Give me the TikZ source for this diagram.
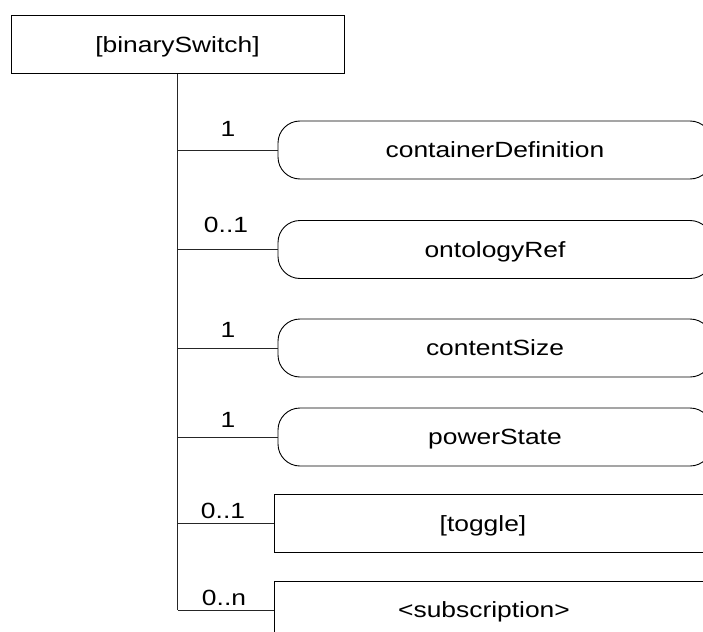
\documentclass[tikz,border=0pt]{standalone}
\usepackage{fontspec}
\setmainfont{Liberation Sans}[FakeStretch=1.2]
\begin{document}
\begin{tikzpicture}[x=1pt,y=-1pt,
  every node/.style={font=\fontsize{22}{26}\selectfont},
  box/.style={draw, line width=0.9pt, minimum height=58pt, inner sep=0pt,
    text height=15.6pt, text depth=0pt},
  roundbox/.style={box, rounded corners=22pt, minimum width=434pt},
  rectbox/.style={box, minimum width=446pt, anchor=west},
  conn/.style={line width=0.9pt, draw=black!85},
  mult/.style={anchor=base, inner sep=0pt}]
\useasboundingbox (0,0) rectangle (703,631);
\clip (0,0) rectangle (703,631);
\node[box, minimum width=333pt] (top) at (177.5,44.5) {[binarySwitch]};
\node[roundbox] (cd) at (495,150) {containerDefinition};
\node[roundbox] (or) at (495,249.5) {ontologyRef};
\node[roundbox] (cs) at (495,348) {contentSize};
\node[roundbox] (ps) at (495,437) {powerState};
\node[rectbox] (tg) at (274,523.5) {};
\node (tgtext) at (483,523.5) [text height=15.6pt, text depth=0pt, inner sep=0pt] {[toggle]};
\node[rectbox] (sb) at (274,610) {};
\node (sbtext) at (484,610) [text height=15.6pt, text depth=0pt, inner sep=0pt] {<subscription>};
\coordinate (tend) at (top.south |- sb.west);
\draw[conn] (top.south) -- (tend);
\draw[conn] (top.south |- cd.west) -- (cd.west);
\draw[conn] (top.south |- or.west) -- (or.west);
\draw[conn] (top.south |- cs.west) -- (cs.west);
\draw[conn] (top.south |- ps.west) -- (ps.west);
\draw[conn] (top.south |- tg.west) -- (tg.west);
\draw[conn] (tend) -- (sb.west);
\node[mult] (m1) at (228,137) {1};
\node[mult] (m2) at (226,232) {0..1};
\node[mult] (m3) at (228,337) {1};
\node[mult] (m4) at (228,427) {1};
\node[mult] (m5) at (223,518) {0..1};
\node[mult] (m6) at (224,605) {0..n};
\end{tikzpicture}
\end{document}
